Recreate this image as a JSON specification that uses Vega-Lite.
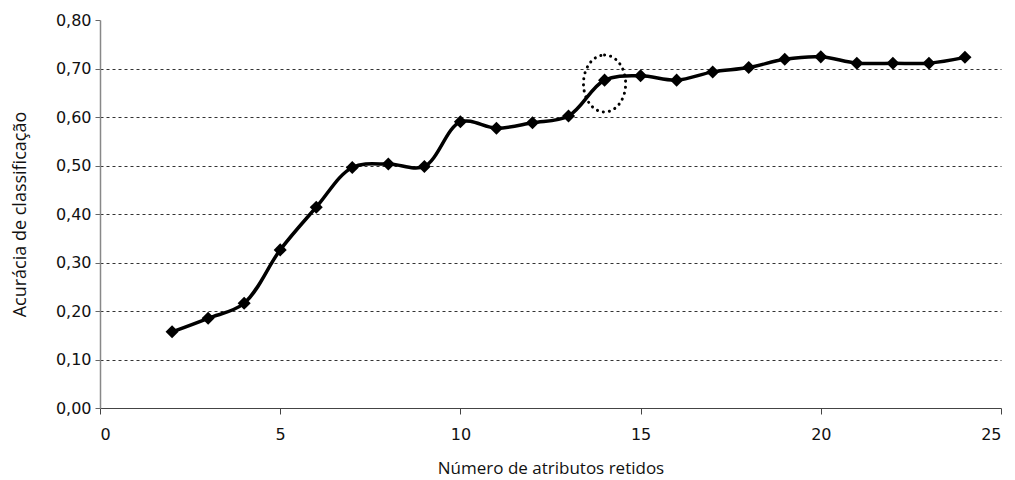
{
  "$schema": "https://vega.github.io/schema/vega-lite/v6.json",
  "width": 901,
  "height": 388,
  "autosize": "none",
  "padding": {"left": 100, "top": 20, "right": 14, "bottom": 72},
  "background": "white",
  "config": {
    "view": {"stroke": null},
    "font": "Open Sans"
  },
  "datasets": {
    "acc": [
      {"n": 2, "acc": 0.157},
      {"n": 3, "acc": 0.185},
      {"n": 4, "acc": 0.216},
      {"n": 5, "acc": 0.326},
      {"n": 6, "acc": 0.414},
      {"n": 7, "acc": 0.496},
      {"n": 8, "acc": 0.503},
      {"n": 9, "acc": 0.498},
      {"n": 10, "acc": 0.590},
      {"n": 11, "acc": 0.577},
      {"n": 12, "acc": 0.588},
      {"n": 13, "acc": 0.602},
      {"n": 14, "acc": 0.676},
      {"n": 15, "acc": 0.685},
      {"n": 16, "acc": 0.676},
      {"n": 17, "acc": 0.693},
      {"n": 18, "acc": 0.702},
      {"n": 19, "acc": 0.719},
      {"n": 20, "acc": 0.724},
      {"n": 21, "acc": 0.711},
      {"n": 22, "acc": 0.711},
      {"n": 23, "acc": 0.711},
      {"n": 24, "acc": 0.723}
    ],
    "highlight": [{"n": 14, "acc": 0.669}]
  },
  "layer": [
    {
      "data": {"name": "acc"},
      "mark": {"type": "line", "interpolate": "catmull-rom", "color": "black", "strokeWidth": 3.5},
      "encoding": {
        "x": {
          "field": "n", "type": "quantitative",
          "scale": {"domain": [0, 25], "nice": false},
          "axis": {
            "values": [0, 5, 10, 15, 20, 25],
            "title": "Número de atributos retidos",
            "grid": false,
            "domainColor": "#444",
            "domainWidth": 1.2,
            "tickColor": "#444",
            "tickSize": 6,
            "labelFont": "DejaVu Sans",
            "labelFontSize": 16,
            "labelColor": "#111",
            "labelPadding": 12,
            "titleFontSize": 17,
            "titleFontWeight": "normal",
            "titleColor": "#111",
            "titlePadding": 18
          }
        },
        "y": {
          "field": "acc", "type": "quantitative",
          "scale": {"domain": [0, 0.8], "nice": false},
          "axis": {
            "values": [0, 0.1, 0.2, 0.3, 0.4, 0.5, 0.6, 0.7, 0.8],
            "labelExpr": "replace(format(datum.value, '.2f'), '.', ',')",
            "title": "Acurácia de classificação",
            "grid": true,
            "gridColor": "#333",
            "gridDash": [3, 3],
            "gridWidth": 1,
            "gridOpacity": {"condition": {"test": "datum.value == 0 || datum.value >= 0.8", "value": 0}, "value": 1},
            "domainColor": "#888",
            "domainWidth": 1.5,
            "tickColor": "#666",
            "tickSize": 5,
            "labelFont": "DejaVu Sans",
            "labelFontSize": 16,
            "labelColor": "#111",
            "labelPadding": 4,
            "titleFontSize": 18,
            "titleFontWeight": "normal",
            "titleColor": "#111",
            "titlePadding": 26
          }
        }
      }
    },
    {
      "data": {"name": "acc"},
      "mark": {"type": "point", "shape": "diamond", "filled": true, "color": "black", "size": 170, "opacity": 1},
      "encoding": {
        "x": {"field": "n", "type": "quantitative"},
        "y": {"field": "acc", "type": "quantitative"}
      }
    },
    {
      "data": {"name": "highlight"},
      "mark": {
        "type": "point",
        "shape": "M0,-1A0.74,1 0 1,1 0,1A0.74,1 0 1,1 0,-1Z",
        "filled": false,
        "stroke": "black",
        "strokeWidth": 3,
        "strokeDash": [0.1, 6],
        "strokeCap": "round",
        "size": 3249,
        "opacity": 1
      },
      "encoding": {
        "x": {"field": "n", "type": "quantitative"},
        "y": {"field": "acc", "type": "quantitative"}
      }
    }
  ]
}
